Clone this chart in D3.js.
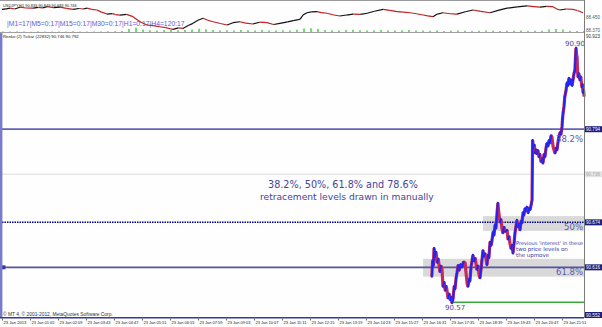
<!DOCTYPE html>
<html><head><meta charset="utf-8">
<script src="https://cdn.jsdelivr.net/npm/d3@7/dist/d3.min.js"></script>
<style>html,body{margin:0;padding:0;background:#fff;overflow:hidden}svg{display:block}</style>
</head><body><svg id="c" width="602" height="327"></svg>
<script>
// ---------- data ----------
const timeLabels = ["23 Jan 2013","23 Jan 01:05","23 Jan 02:09","23 Jan 03:43","23 Jan 04:47","23 Jan 05:51","23 Jan 06:55","23 Jan 07:59","23 Jan 09:03","23 Jan 10:07","23 Jan 11:11","23 Jan 12:15","23 Jan 13:19","23 Jan 14:23","23 Jan 15:27","23 Jan 16:31","23 Jan 17:35","23 Jan 18:39","23 Jan 19:43","23 Jan 20:47","23 Jan 21:51"];

// H1 line of the upper window (x in time-label slots)
const topSlots  = [0,0.15,0.29,0.45,0.64,0.85,1.11,1.3,1.45,1.61,1.85,2.07,2.3,2.54,2.75,2.9,3.04,3.2,3.39,3.55,3.75,3.95,4.05,4.21,4.45,4.68,4.85,5.0,5.18,5.4,5.64,5.85,6.0,6.11,6.3,6.46,6.65,6.82,7.0,7.18,7.35,7.54,7.8,8.04,8.25,8.5,8.7,8.96,9.2,9.46,9.7,9.93,10.2,10.4,10.54,10.64,10.75,10.89,11.05,11.25,11.4,11.61,11.85,12.07,12.3,12.54,12.8,13.04,13.3,13.61,13.85,14.11,14.35,14.57,14.8,15.04,15.2,15.39,15.55,15.75,16.0,16.25,16.55,16.82,17.1,17.43,17.75,18.04,18.4,18.75,19.0,19.21,19.45,19.68,19.8,19.93,20.15,20.39,20.55,20.75];
const topPrices = [88.497,88.500,88.504,88.499,88.510,88.505,88.504,88.509,88.506,88.513,88.507,88.510,88.503,88.497,88.502,88.499,88.504,88.497,88.493,88.480,88.468,88.471,88.465,88.462,88.466,88.452,88.430,88.415,88.401,88.397,88.390,88.385,88.378,88.374,88.383,88.380,88.398,88.411,88.430,88.442,88.430,88.421,88.410,88.401,88.415,88.421,88.412,88.407,88.418,88.415,88.404,88.411,88.420,88.428,88.432,88.436,88.462,88.476,88.481,88.483,88.477,88.473,88.462,88.456,88.462,88.468,88.466,88.473,88.485,88.497,88.490,88.483,88.480,88.476,88.470,88.462,88.457,88.452,88.468,88.476,88.470,88.468,88.482,88.493,88.484,88.476,88.492,88.504,88.512,88.518,88.513,88.510,88.515,88.513,88.500,88.493,88.499,88.497,88.490,88.476];
const topTicks = [88.45, 88.37];
const topTickLabels = ["88.450", "88.370"];
// tick volume, one bar every quarter slot
const volumes = [5,4,6,5,3,4,6,5,4,5,7,6,5,4,6,8,7,9,30,42,25,18,15,20,22,17,19,24,33,28,20,16,18,14,20,17,15,19,16,14,18,15,22,35,38,30,20,18,16,19,22,17,15,18,20,16,14,17,19,15,16,12,14,11,13,15,12,10,13,14,12,11,13,12,14,11,12,13,24,30,26,12,10,11];

// Renko closes of the lower window
const renkoSlots  = [15.35,15.38,15.41,15.43,15.47,15.50,15.54,15.58,15.64,15.67,15.71,15.75,15.79,15.83,15.86,15.89,15.93,15.97,16.01,16.04,16.07,16.11,16.15,16.18,16.22,16.25,16.29,16.33,16.38,16.43,16.48,16.54,16.57,16.61,16.64,16.68,16.71,16.75,16.79,16.82,16.86,16.90,16.96,17.00,17.04,17.07,17.11,17.14,17.18,17.21,17.25,17.32,17.36,17.39,17.43,17.47,17.5,17.54,17.57,17.61,17.64,17.68,17.71,17.75,17.79,17.82,17.86,17.89,17.93,17.97,18.04,18.07,18.11,18.14,18.18,18.21,18.25,18.29,18.32,18.36,18.39,18.43,18.46,18.5,18.54,18.57,18.61,18.64,18.68,18.71,18.75,18.79,18.82,18.86,18.90,18.93,18.95,18.98,19.01,19.04,19.07,19.11,19.14,19.18,19.21,19.25,19.29,19.32,19.36,19.39,19.43,19.46,19.50,19.54,19.57,19.61,19.64,19.68,19.71,19.75,19.79,19.82,19.86,19.89,19.93,19.96,20.0,20.02,20.04,20.07,20.10,20.14,20.18,20.21,20.25,20.29,20.32,20.36,20.39,20.43,20.46,20.48,20.5,20.52,20.54,20.55,20.57,20.6,20.64,20.67,20.71,20.73,20.75,20.77,20.79];
const renkoPrices = [90.604,90.625,90.618,90.641,90.630,90.636,90.622,90.627,90.610,90.618,90.616,90.591,90.597,90.586,90.592,90.587,90.576,90.582,90.574,90.578,90.570,90.576,90.592,90.588,90.603,90.609,90.619,90.612,90.620,90.616,90.623,90.622,90.610,90.596,90.591,90.601,90.598,90.616,90.625,90.632,90.624,90.628,90.613,90.618,90.606,90.602,90.614,90.625,90.638,90.630,90.634,90.619,90.632,90.628,90.649,90.644,90.651,90.662,90.657,90.671,90.666,90.686,90.699,90.684,90.674,90.678,90.665,90.660,90.668,90.662,90.664,90.652,90.656,90.647,90.640,90.645,90.634,90.648,90.660,90.670,90.677,90.668,90.672,90.664,90.676,90.673,90.687,90.683,90.692,90.689,90.694,90.686,90.692,90.690,90.697,90.703,90.780,90.770,90.774,90.763,90.768,90.762,90.767,90.758,90.762,90.752,90.756,90.750,90.762,90.758,90.770,90.776,90.772,90.780,90.776,90.786,90.784,90.772,90.768,90.763,90.770,90.767,90.778,90.784,90.790,90.787,90.797,90.808,90.815,90.823,90.836,90.843,90.854,90.850,90.860,90.852,90.858,90.850,90.857,90.866,90.870,90.885,90.899,90.890,90.887,90.872,90.861,90.866,90.857,90.862,90.848,90.852,90.841,90.845,90.836];

// manually drawn levels
const levelPrices = [90.794, 90.736, 90.674, 90.616];
const levelNames  = ["38.2%", "", "50%", "61.8%"];
const levelLabels = ["90.794", "90.736", "90.674", "90.616"];
const zoneTop    = [90.682, 90.627];
const zoneBottom = [90.663, 90.604];
const zoneStart  = [17.18, 15.04];
const lowPrice = 90.571, lowSlot = 16.11, lowText = "90.57";
const highPrice = 90.899, highText = "90.90";
const lowerTopLabel = "90.923", lowerBottomLabel = "90.552";

// ---------- drawing ----------
const svg = d3.select("#c");
const W = 602, H = 327, plotR = 584;
const x = d3.scaleLinear().domain([0, 20]).range([2, 562]);
const yTop = d3.scaleLinear().domain([88.358, 88.548]).range([32, 1]);
const y = d3.scaleLinear().domain([90.552, 90.918]).range([317, 33]);
const FONT = "DejaVu Sans, Verdana, sans-serif";
const SANS = "Liberation Sans, Arial, sans-serif";

function fit(sel, w) {
  const L = sel.node().getComputedTextLength();
  if (L > 0) sel.attr("font-size", parseFloat(sel.attr("font-size")) * w / L);
  return sel;
}

svg.append("rect").attr("width", W).attr("height", H).attr("fill", "#fdfefd");

// ---- upper window ----
svg.append("line").attr("x1", 0).attr("x2", plotR).attr("y1", 0.5).attr("y2", 0.5).attr("stroke", "#9a9a9a");
const vw = d3.scaleLinear().domain([0, 45]).range([0, 4.5]);
svg.append("g").selectAll("line").data(volumes).join("line")
  .attr("x1", (d, i) => x(i * 0.25) + 1).attr("x2", (d, i) => x(i * 0.25) + 1)
  .attr("y1", 32).attr("y2", d => 32 - vw(d))
  .attr("stroke", "#44d044").attr("stroke-width", 1.5);

svg.append("text").attr("x", 7).attr("y", 26).attr("font-family", SANS).attr("font-size", 7)
  .attr("fill", "#5a5ae0").text("|M1=17|M5=0:17|M15=0:17|M30=0:17|H1=0:17|H4=120:17")
  .call(s => fit(s, 178));

const topPts = topSlots.map((s, i) => [x(s), yTop(topPrices[i])]);
svg.append("g").selectAll("line").data(topPts.slice(1)).join("line")
  .attr("x1", (d, i) => topPts[i][0]).attr("y1", (d, i) => topPts[i][1])
  .attr("x2", d => d[0]).attr("y2", d => d[1])
  .attr("stroke", (d, i) => d[1] > topPts[i][1] ? "#c02020" : "#101010")
  .attr("stroke-width", 1.2);

svg.append("text").attr("x", 3).attr("y", 7).attr("font-family", SANS).attr("font-size", 5)
  .attr("fill", "#222").text("USDJPY,H1  90.833 90.849 90.683 90.746").call(s => fit(s, 74));
topTicks.forEach((t, i) => {
  svg.append("text").attr("x", 586).attr("y", yTop(t) + 2).attr("font-family", SANS).attr("font-size", 5)
    .attr("fill", "#555").text(topTickLabels[i]).call(s => fit(s, 14));
});
svg.append("line").attr("x1", 0).attr("x2", plotR).attr("y1", 32.5).attr("y2", 32.5).attr("stroke", "#a0a0a0");

// ---- lower window ----
svg.append("text").attr("x", 3).attr("y", 38).attr("font-family", SANS).attr("font-size", 5)
  .attr("fill", "#222").text("Renko (2) Tickar (22832) 90.746 90.792").call(s => fit(s, 76));
svg.append("text").attr("x", 586).attr("y", 38).attr("font-family", SANS).attr("font-size", 5)
  .attr("fill", "#333").text(lowerTopLabel).call(s => fit(s, 14));

// zones
zoneTop.forEach((t, i) => {
  svg.append("rect").attr("x", x(zoneStart[i])).attr("y", y(t))
    .attr("width", plotR - x(zoneStart[i])).attr("height", y(zoneBottom[i]) - y(t))
    .attr("fill", "#d9d9d9");
});

// level lines
const levelStyle = [
  {c: "#6363b6", w: 1.8, d: null},
  {c: "#dcdcdc", w: 1, d: null},
  {c: "#00008b", w: 1.5, d: "1.5,1"},
  {c: "#55559f", w: 1.8, d: null}
];
levelPrices.forEach((p, i) => {
  const st = levelStyle[i];
  svg.append("line").attr("x1", 2).attr("x2", plotR).attr("y1", y(p)).attr("y2", y(p))
    .attr("stroke", st.c).attr("stroke-width", st.w).attr("stroke-dasharray", st.d);
});
svg.append("rect").attr("x", 1.5).attr("y", y(levelPrices[3]) - 2).attr("width", 4).attr("height", 4).attr("fill", "#3a3aa0");

// low line
svg.append("line").attr("x1", x(lowSlot)).attr("x2", plotR).attr("y1", y(lowPrice)).attr("y2", y(lowPrice))
  .attr("stroke", "#3aa83a").attr("stroke-width", 1.5);

// renko: red body under blue up-bricks
const rPts = renkoSlots.map((s, i) => [x(s), y(renkoPrices[i])]);
svg.append("path").attr("d", d3.line()(rPts)).attr("fill", "none")
  .attr("stroke", "#c8285c").attr("stroke-width", 3.2).attr("stroke-linejoin", "bevel");
svg.append("g").selectAll("line").data(rPts.slice(1)).join("line")
  .filter((d, i) => d[1] < rPts[i][1])
  .attr("x1", function (d) { const i = rPts.indexOf(d) - 1; return rPts[i][0]; })
  .attr("y1", function (d) { const i = rPts.indexOf(d) - 1; return rPts[i][1]; })
  .attr("x2", d => d[0]).attr("y2", d => d[1])
  .attr("stroke", "#2424f0").attr("stroke-width", 2).attr("stroke-linecap", "square");

// level percentage labels
levelPrices.forEach((p, i) => {
  if (!levelNames[i]) return;
  svg.append("text").attr("x", 583).attr("y", y(p) + (i === 0 ? 13 : 8)).attr("text-anchor", "end")
    .attr("font-family", FONT).attr("font-size", 8.5).attr("fill", "#5a5aa8").text(levelNames[i]);
});
svg.append("text").attr("x", 575).attr("y", y(highPrice) - 2).attr("text-anchor", "middle")
  .attr("font-family", FONT).attr("font-size", 7).attr("fill", "#4a4aa0").text(highText);
svg.append("text").attr("x", x(lowSlot) + 2).attr("y", y(lowPrice) + 8).attr("text-anchor", "middle")
  .attr("font-family", FONT).attr("font-size", 7).attr("fill", "#4a4aa0").text(lowText);

// annotations
svg.append("text").attr("x", 268).attr("y", 188).attr("font-family", FONT).attr("font-size", 9.5)
  .attr("fill", "#44449a").text("38.2%, 50%, 61.8% and 78.6%").call(s => fit(s, 150));
svg.append("text").attr("x", 260).attr("y", 200).attr("font-family", FONT).attr("font-size", 9.5)
  .attr("fill", "#44449a").text("retracement levels drawn in manually").call(s => fit(s, 174));
["Previous 'interest' in these", "two price levels on", "the upmove"].forEach((t, i) => {
  const s = svg.append("text").attr("x", 516).attr("y", 245 + i * 5.8).attr("font-family", FONT)
    .attr("font-size", 5.5).attr("fill", "#3a3aa0").text(t);
  if (i === 0) fit(s, 67);
});

// right axis level boxes
levelPrices.forEach((p, i) => {
  const gray = i === 1;
  svg.append("rect").attr("x", 585).attr("y", y(p) - 3).attr("width", 17).attr("height", 6)
    .attr("fill", gray ? "#e4e4e4" : "#1c1c7a");
  svg.append("text").attr("x", 586).attr("y", y(p) + 2).attr("font-family", SANS).attr("font-size", 5)
    .attr("fill", gray ? "#aaaaaa" : "#ffffff").text(levelLabels[i]).call(s => fit(s, 14));
});
svg.append("rect").attr("x", 585).attr("y", 312).attr("width", 17).attr("height", 6).attr("fill", "#1c1c7a");
svg.append("text").attr("x", 586).attr("y", 317).attr("font-family", SANS).attr("font-size", 5)
  .attr("fill", "#fff").text(lowerBottomLabel).call(s => fit(s, 14));

// frame
svg.append("line").attr("x1", 1.2).attr("x2", 1.2).attr("y1", 33).attr("y2", 318).attr("stroke", "#7a7acc").attr("stroke-width", 2.4);
svg.append("line").attr("x1", plotR + 0.5).attr("x2", plotR + 0.5).attr("y1", 0).attr("y2", 318).attr("stroke", "#7c7c7c");
svg.append("text").attr("x", 3).attr("y", 316).attr("font-family", SANS).attr("font-size", 5)
  .attr("fill", "#333").text("\u00a9 MT 4, \u00a9 2001-2012, MetaQuotes Software Corp.").call(s => fit(s, 110));
svg.append("line").attr("x1", 0).attr("x2", plotR).attr("y1", 317.8).attr("y2", 317.8).attr("stroke", "#3a3a9e").attr("stroke-width", 1.6);

// time axis
const xAxis = d3.axisBottom(x).tickValues(d3.range(timeLabels.length)).tickSize(2).tickFormat(i => timeLabels[i]);
const gx = svg.append("g").attr("transform", "translate(0,318.5)").call(xAxis);
gx.select(".domain").remove();
gx.selectAll(".tick line").attr("stroke", "#666");
gx.selectAll(".tick text").attr("font-family", SANS).attr("font-size", 5).attr("fill", "#222")
  .attr("text-anchor", "start").attr("dx", 1).attr("y", 3)
  .each(function () { fit(d3.select(this), 23); });
</script></body></html>
